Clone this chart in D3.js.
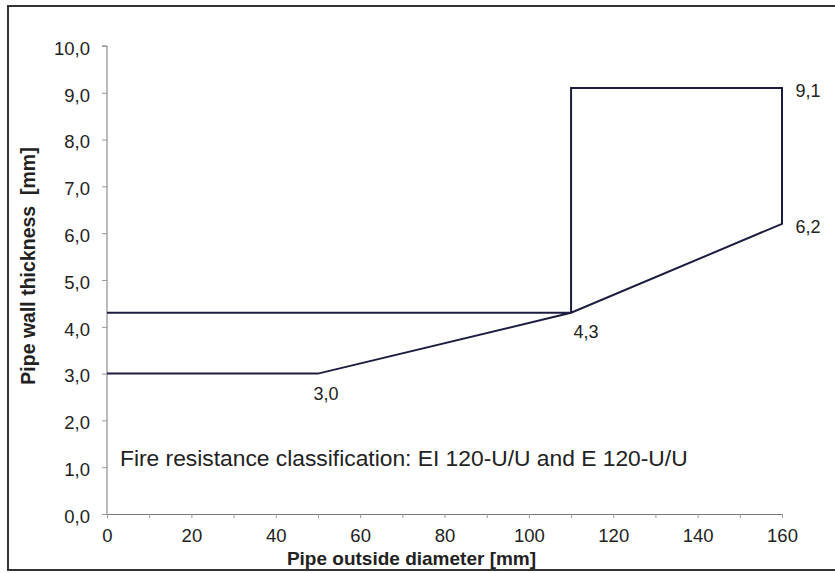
<!DOCTYPE html>
<html>
<head>
<meta charset="utf-8">
<script src="https://cdnjs.cloudflare.com/ajax/libs/d3/7.8.5/d3.min.js"></script>
<style>
  body{margin:0;background:#fff;}
  text{font-family:"Liberation Sans",Arial,sans-serif;fill:#222;}
</style>
</head>
<body>
<svg width="835" height="573"></svg>
<script>
  const svgWidth=835;
  const svgHeight=573;

  const margin={
    top:46,
    left:107,
    bottom:59,
    right:53
  }

  const width=svgWidth-(margin.left+margin.right);
  const height=svgHeight-(margin.top+margin.bottom);

  // outline of the permitted area (diameter, wall thickness)
  const diameters=[0,110,110,160,160,110,50,0];
  const thickness=[4.3,4.3,9.1,9.1,6.2,4.3,3.0,3.0];

  // labelled corner points
  const labelX=[50,110,160,160];
  const labelY=[3.0,4.3,9.1,6.2];
  const labelText=["3,0","4,3","9,1","6,2"];

  const xTicks=[0,20,40,60,80,100,120,140,160];
  const xMinorTicks=[0,10,20,30,40,50,60,70,80,90,100,110,120,130,140,150,160];
  const yTicks=[0,1,2,3,4,5,6,7,8,9,10];

  const xScale=d3.scaleLinear()
      .domain([0,160])
      .range([0,width]);

  const yScale=d3.scaleLinear()
      .domain([0,10])
      .range([height,0]);

  const svg=d3.select("svg");

  // frame around the whole chart
  svg.append("rect")
      .attr("x",8)
      .attr("y",6)
      .attr("width",840)
      .attr("height",564)
      .style("fill","none")
      .style("stroke","#333")
      .style("stroke-width",2);

  const g=svg.append("g")
      .attr("transform",`translate(${margin.left},${margin.top})`);

  // x axis
  const xAxis=d3.axisBottom(xScale)
      .tickValues(xMinorTicks)
      .tickSize(4)
      .tickFormat(d=> xTicks.includes(d) ? d : "");

  g.append("g")
      .attr("class","xAxis")
      .attr("transform",`translate(0,${height})`)
      .call(xAxis)
      .call(a=>a.select(".domain").style("stroke","#777"))
      .call(a=>a.selectAll(".tick line").style("stroke","#999"))
      .selectAll("text")
      .attr("y",28)
      .attr("dy",0)
      .style("font-size","18.5px");

  // y axis
  const yAxis=d3.axisLeft(yScale)
      .tickValues(yTicks)
      .tickSize(5)
      .tickPadding(12)
      .tickFormat(d=> d3.format(".1f")(d).replace(".",","));

  g.append("g")
      .attr("class","yAxis")
      .call(yAxis)
      .call(a=>a.select(".domain").attr("d",`M0,${height}V0H-5`).style("stroke","#777"))
      .call(a=>a.selectAll(".tick line").style("stroke","#999"))
      .selectAll("text")
      .attr("dy","0.45em")
      .style("font-size","18.5px");

  // axis titles
  g.append("text")
      .text("Pipe outside diameter [mm]")
      .attr("x",width/2-33)
      .attr("y",height+51)
      .attr("text-anchor","middle")
      .style("font-size","19px")
      .style("font-weight","bold");

  g.append("text")
      .text("Pipe wall thickness\u00a0\u00a0[mm]")
      .attr("transform","rotate(-90)")
      .attr("x",-220)
      .attr("y",-72)
      .attr("text-anchor","middle")
      .style("font-size","19.5px")
      .style("font-weight","bold");

  // outline
  const points=diameters.map((d,i)=>[d,thickness[i]]);
  const line=d3.line()
      .x(d=>xScale(d[0]))
      .y(d=>yScale(d[1]));

  g.append("path")
      .datum(points)
      .attr("d",line)
      .style("fill","none")
      .style("stroke","#1c1c40")
      .style("stroke-width",2)
      .style("stroke-linejoin","miter");

  // value labels
  const offsets=[[8,26],[15,25],[26,9],[26,9]];
  g.selectAll(".vlabel")
      .data(labelText)
      .enter()
      .append("text")
      .attr("class","vlabel")
      .attr("x",(d,i)=>xScale(labelX[i])+offsets[i][0])
      .attr("y",(d,i)=>yScale(labelY[i])+offsets[i][1])
      .attr("text-anchor","middle")
      .style("font-size","18px")
      .text(d=>d);

  // classification note
  g.append("text")
      .text("Fire resistance classification: EI 120-U/U and E 120-U/U")
      .attr("x",13)
      .attr("y",yScale(1.02))
      .style("font-size","22.8px");
</script>
</body>
</html>
